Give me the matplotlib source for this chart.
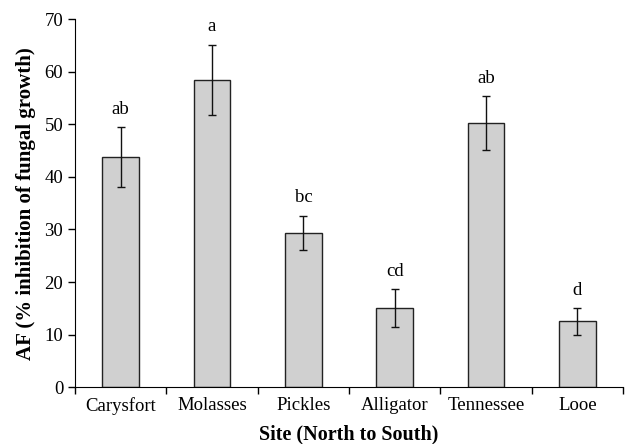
import numpy as np
import matplotlib.pyplot as plt

plt.rcParams['font.family'] = ['Liberation Serif', 'DejaVu Serif']

#-------------------------------------------------------------
#Data
#-------------------------------------------------------------
sites = ['Carysfort', 'Molasses', 'Pickles', 'Alligator', 'Tennessee', 'Looe']
af_mean = [43.7, 58.4, 29.3, 15.0, 50.2, 12.5]
af_err = [5.7, 6.7, 3.3, 3.6, 5.1, 2.5]
letters = ['ab', 'a', 'bc', 'cd', 'ab', 'd']

#-------------------------------------------------------------
#Plot
#-------------------------------------------------------------
fig = plt.figure(figsize=(6.25, 4.44), dpi=100)
ax = fig.add_axes([0.12, 0.128, 0.877, 0.829])

x = np.arange(len(sites))
ax.bar(x, af_mean, width=0.4, color='#d0d0d0', edgecolor='#222222', linewidth=1.0,
       yerr=af_err, error_kw=dict(ecolor='#111111', elinewidth=1.0, capsize=3, capthick=1.0))

for xi, m, e, lab in zip(x, af_mean, af_err, letters):
    ax.annotate(lab, (xi, m + e), xytext=(0, 7), textcoords='offset points',
                ha='center', va='bottom', fontsize=13.5)

ax.set_xlim(-0.5, len(sites) - 0.5)
ax.set_ylim(0, 70)
ax.set_yticks(np.arange(0, 71, 10))
ax.set_xticks(x)
ax.set_xticklabels(sites, fontsize=13.5)
ax.set_xticks(np.arange(-0.5, len(sites), 1.0), minor=True)
ax.tick_params(axis='x', which='major', length=0, pad=7)
ax.tick_params(axis='x', which='minor', length=5, direction='out', width=1)
ax.tick_params(axis='y', labelsize=13.5, length=5, direction='out', width=1)

for s in ['top', 'right']:
    ax.spines[s].set_visible(False)

ax.set_xlabel('Site (North to South)', fontsize=14.5, fontweight='bold', labelpad=7)
ax.set_ylabel('AF (% inhibition of fungal growth)', fontsize=15, fontweight='bold', labelpad=6)

plt.savefig('out.png', dpi=100)
